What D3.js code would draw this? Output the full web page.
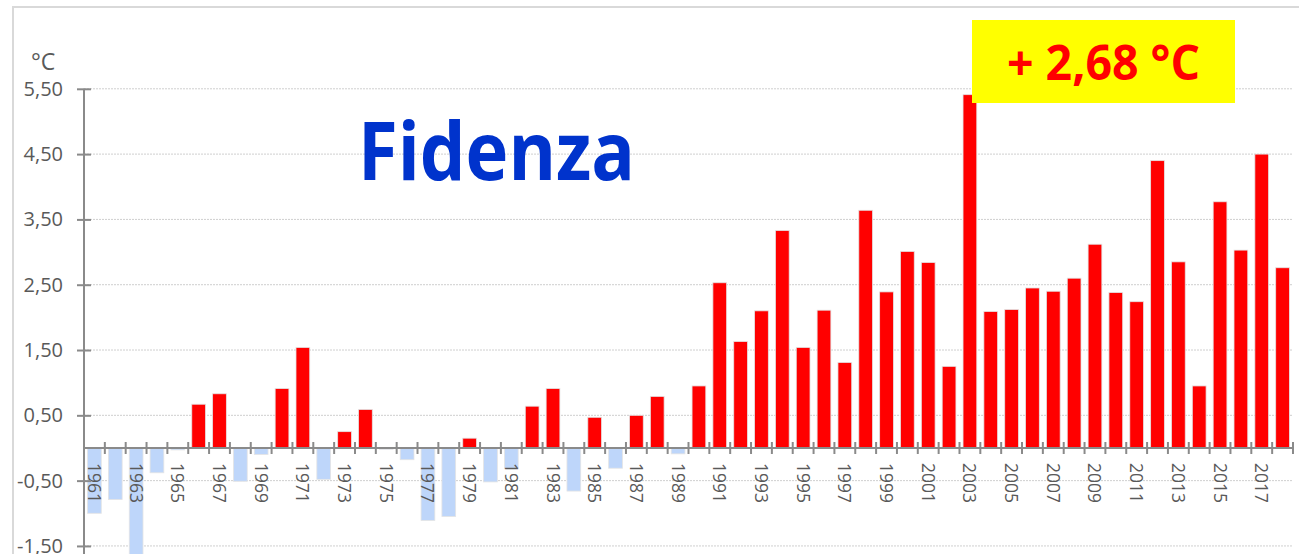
<!DOCTYPE html>
<html>
<head>
<meta charset="utf-8">
<script src="https://cdn.jsdelivr.net/npm/d3@7"></script>
<style>
  body { margin: 0; background: #fff; }
  svg { display: block; font-family: "Open Sans", sans-serif; }
</style>
</head>
<body>
<div id="chart"></div>
<script>
// data (anomalies in °C)
const years = [1961, 1962, 1963, 1964, 1965, 1966, 1967, 1968, 1969, 1970,
               1971, 1972, 1973, 1974, 1975, 1976, 1977, 1978, 1979, 1980,
               1981, 1982, 1983, 1984, 1985, 1986, 1987, 1988, 1989, 1990,
               1991, 1992, 1993, 1994, 1995, 1996, 1997, 1998, 1999, 2000,
               2001, 2002, 2003, 2004, 2005, 2006, 2007, 2008, 2009, 2010,
               2011, 2012, 2013, 2014, 2015, 2016, 2017, 2018];
const anomalies = [-1.00, -0.79, -1.75, -0.38, -0.03, 0.67, 0.83, -0.51, -0.10, 0.91,
                   1.54, -0.48, 0.25, 0.59, -0.02, -0.18, -1.11, -1.05, 0.15, -0.52,
                   -0.31, 0.64, 0.91, -0.66, 0.47, -0.31, 0.50, 0.79, -0.09, 0.95,
                   2.53, 1.63, 2.10, 3.33, 1.54, 2.11, 1.31, 3.64, 2.39, 3.01,
                   2.84, 1.25, 5.41, 2.09, 2.12, 2.45, 2.40, 2.60, 3.12, 2.38,
                   2.24, 4.40, 2.85, 0.95, 3.77, 3.03, 4.50, 2.76];
const yTicks = [-1.5, -0.5, 0.5, 1.5, 2.5, 3.5, 4.5, 5.5];
const labelYears = years.filter((d, i) => i % 2 === 0);
const title = "Fidenza";
const unitLabel = "°C";
const badgeText = "+ 2,68 °C";

const width = 1299, height = 554;
const RED = "#ff0000", BLUE = "#bed6fa", GREY = "#595959", AXIS = "#8a8a8a";

const locale = d3.formatLocale({decimal: ",", thousands: ".", grouping: [3], currency: ["", " €"], minus: "-"});
const fmt = locale.format(".2f");

const svg = d3.select("#chart").append("svg")
    .attr("width", width)
    .attr("height", height)
    .attr("viewBox", [0, 0, width, height]);

// chart frame
svg.append("rect")
    .attr("x", 13).attr("y", 7)
    .attr("width", 1320).attr("height", 600)
    .attr("fill", "none")
    .attr("stroke", "#d9d9d9")
    .attr("stroke-width", 2);

const x = d3.scaleBand()
    .domain(years)
    .range([84, 1293])
    .paddingInner(0.34)
    .paddingOuter(0.17);

const y = d3.scaleLinear()
    .domain([-1.7, 5.5])
    .range([559, 88.8]);

const step = x.step();
const left = x.range()[0], right = x.range()[1];

// gridlines
svg.append("g")
    .selectAll("line")
    .data(yTicks)
    .join("line")
    .attr("x1", left).attr("x2", right)
    .attr("y1", d => y(d)).attr("y2", d => y(d))
    .attr("stroke", "#cfcfcf")
    .attr("stroke-width", 1)
    .attr("stroke-dasharray", "2,1");

// bars
svg.append("g")
    .selectAll("rect")
    .data(years.map((yr, i) => ({year: yr, value: anomalies[i]})))
    .join("rect")
    .attr("x", d => x(d.year))
    .attr("width", x.bandwidth())
    .attr("y", d => Math.min(y(d.value), y(0)))
    .attr("height", d => Math.abs(y(d.value) - y(0)))
    .attr("fill", d => d.value >= 0 ? RED : BLUE)
    .attr("stroke", "#e4e4e4")
    .attr("stroke-width", 0.8);

// x axis line + crossing ticks at category boundaries
const xAxisG = svg.append("g");
xAxisG.append("line")
    .attr("x1", left).attr("x2", right)
    .attr("y1", y(0)).attr("y2", y(0))
    .attr("stroke", AXIS).attr("stroke-width", 2);
xAxisG.selectAll("line.tk")
    .data(d3.range(years.length + 1))
    .join("line")
    .attr("class", "tk")
    .attr("x1", i => left + i * step).attr("x2", i => left + i * step)
    .attr("y1", y(0) - 6).attr("y2", y(0) + 6)
    .attr("stroke", AXIS).attr("stroke-width", 2);

// x labels, rotated
xAxisG.selectAll("text")
    .data(labelYears)
    .join("text")
    .attr("transform", d => `translate(${x(d) + x.bandwidth() / 2},${y(0) + 15}) rotate(90)`)
    .attr("dy", "0.36em")
    .attr("text-anchor", "start")
    .attr("fill", GREY)
    .style("font-size", "18px")
    .attr("textLength", 40)
    .attr("lengthAdjust", "spacingAndGlyphs")
    .text(d => d);

// y axis
const yAxisG = svg.append("g")
    .attr("transform", `translate(${left},0)`)
    .call(d3.axisLeft(y).tickValues(yTicks).tickSize(7).tickPadding(14).tickFormat(fmt))
    .call(g => g.select(".domain").remove())
    .call(g => g.selectAll(".tick line").attr("x1", 7).attr("stroke", AXIS).attr("stroke-width", 2))
    .call(g => g.selectAll(".tick text").attr("fill", GREY).style("font-size", "20px").style("font-family", "Open Sans, sans-serif"));
yAxisG.append("line")
    .attr("x1", 0).attr("x2", 0)
    .attr("y1", y(5.5)).attr("y2", height)
    .attr("stroke", AXIS).attr("stroke-width", 2);

// unit label
svg.append("text")
    .attr("x", 31).attr("y", 70)
    .attr("fill", GREY)
    .style("font-size", "23px")
    .text(unitLabel);

// title
svg.append("text")
    .attr("x", 358).attr("y", 180)
    .attr("fill", "#0033cc")
    .style("font-size", "80px")
    .style("font-weight", "bold")
    .attr("textLength", 277)
    .attr("lengthAdjust", "spacingAndGlyphs")
    .text(title);

// badge
svg.append("rect")
    .attr("x", 972).attr("y", 20)
    .attr("width", 263).attr("height", 83)
    .attr("fill", "#ffff00");
svg.append("text")
    .attr("x", 1007).attr("y", 80)
    .attr("fill", RED)
    .style("font-size", "48px")
    .style("font-weight", "bold")
    .attr("textLength", 193)
    .attr("lengthAdjust", "spacingAndGlyphs")
    .text(badgeText);
</script>
</body>
</html>
